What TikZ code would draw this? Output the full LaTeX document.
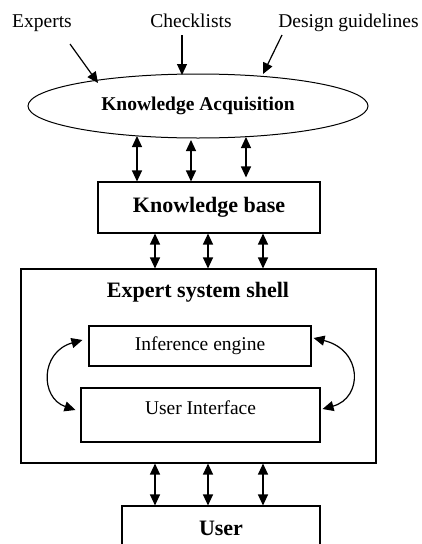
\documentclass[tikz,border=0pt]{standalone}
\usepackage{fontspec}
\setmainfont{Liberation Serif}
\usetikzlibrary{arrows.meta,shapes.geometric}
\begin{document}
\begin{tikzpicture}[x=1pt,y=-1pt,
  box/.style={draw, line width=1.1pt, inner sep=0pt},
  tip/.style={Triangle[length=11pt,width=10pt]},
  dbl/.style={{Triangle[length=11pt,width=10pt]}-{Triangle[length=11pt,width=10pt]}, line width=1.2pt},
  arr/.style={-{Triangle[length=11pt,width=10pt]}, line width=1.2pt},
  lbl/.style={font=\fontsize{19.5}{23}\selectfont},
  blbl/.style={font=\fontsize{22}{26}\selectfont\bfseries}]
\useasboundingbox (0,0) rectangle (422,544);
\clip (0,0) rectangle (422,544);

% sources of knowledge
\node[lbl, anchor=base] (experts) at (42,27) {Experts};
\node[lbl, anchor=base] (check) at (191,27) {Checklists};
\node[lbl, anchor=base] (design) at (348.5,27) {Design guidelines};

% acquisition ellipse
\node[draw, line width=1pt, ellipse, minimum width=340pt, minimum height=64pt, inner sep=0pt,
      font=\fontsize{19.5}{23}\selectfont\bfseries] (ka) at (198,106) {Knowledge Acquisition};

% boxes
\node[box, blbl, minimum width=222pt, minimum height=51pt] (kb) at (209,207.5) {Knowledge base};
\node[box, minimum width=355pt, minimum height=194pt] (shell) at (198.5,366) {};
\node[blbl, anchor=base] (shelltitle) at (198,297) {Expert system shell};
\node[box, lbl, minimum width=222pt, minimum height=40pt] (ie) at (200,346) {Inference engine};
\node[box, minimum width=239pt, minimum height=54pt] (ui) at (200.5,415) {};
\node[lbl, anchor=base] (uitext) at (200.5,414) {User Interface};
\node[box, minimum width=198pt, minimum height=50pt] (user) at (221,531) {};
\node[blbl, anchor=base] (usertext) at (221,535) {User};

% inputs into the acquisition step
\coordinate (e0) at (70,44);  \coordinate (e1) at (98,83);
\coordinate (c0) at (182,35); \coordinate (c1) at (182,75);
\coordinate (d0) at (282,35); \coordinate (d1) at (263,74);
\draw[arr] (e0) -- (e1);
\draw[arr] (c0) -- (c1);
\draw[arr] (d0) -- (d1);

% acquisition <-> knowledge base
\coordinate (a1) at (137,136);
\coordinate (a2) at (191,140);
\coordinate (a3) at (246,137);
\draw[dbl] (a1) -- (a1 |- kb.north);
\draw[dbl] (a2) -- (a2 |- kb.north);
\draw[dbl, shorten >=4pt] (a3) -- (a3 |- kb.north);

% knowledge base <-> shell <-> user
\coordinate (b1) at (155,0);
\coordinate (b2) at (208,0);
\coordinate (b3) at (263,0);
\foreach \p in {b1,b2,b3} {
  \draw[dbl] (\p |- kb.south) -- (\p |- shell.north);
  \draw[dbl] (\p |- shell.south) -- (\p |- user.north);
}

% engine <-> interface
\draw[dbl] ([shift={(-6,-6)}]ie.west) .. controls (40,352) and (40,398) .. ([shift={(-5,-5)}]ui.west);
\draw[dbl] ([shift={(2,-8)}]ie.east) .. controls (363,350) and (363,398) .. ([shift={(2,-6)}]ui.east);
\end{tikzpicture}
\end{document}
